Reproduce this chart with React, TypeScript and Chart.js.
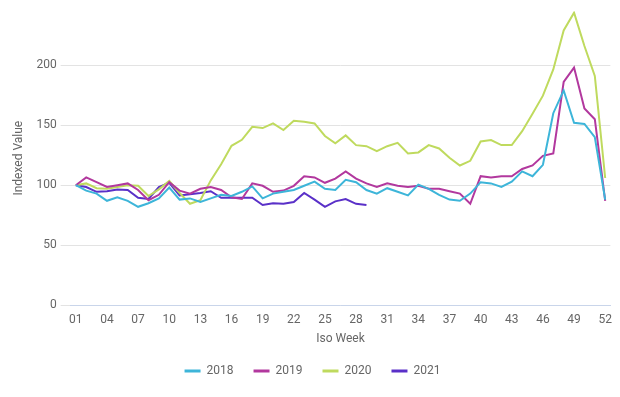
import React, { useEffect, useRef } from "react";
import { Chart, registerables } from "chart.js";

Chart.register(...registerables);

const weeks = Array.from({ length: 52 }, (_, i) => String(i + 1).padStart(2, "0"));

const series2018 = [100, 95.5, 93, 87, 90, 87, 82, 85, 89, 98, 88, 89, 86, 89, 92, 91, 94.5, 99, 89, 93, 94.5, 96, 99.5, 103, 97, 96, 104.5, 102.5, 96, 93, 97.5, 94.5, 91.5, 100.5, 97, 92, 88, 87, 93, 102.5, 101.5, 98.5, 103, 111.5, 107.5, 117, 160, 179, 152, 151, 140, 88];
const series2019 = [100, 106.5, 102.5, 98.5, 100, 101.5, 96, 87.5, 92, 102.5, 95.5, 93, 97, 98.5, 96, 90, 88.5, 101.5, 99.5, 94.5, 95.5, 99.5, 107.5, 106.5, 102, 105.5, 111.5, 105.5, 101.5, 98.5, 101.5, 99.5, 98.5, 99.5, 97, 97, 95, 93, 84.5, 107.5, 106.5, 107.5, 107.5, 113.5, 116.5, 124.5, 126.5, 186, 198, 164, 155, 87];
const series2020 = [100, 101.5, 97.5, 97, 98.5, 100, 99.5, 91, 96.5, 103.5, 93.5, 84.5, 87.5, 104, 117.5, 132.8, 137.8, 148.7, 147.6, 151.5, 146, 153.7, 152.9, 151.5, 141, 135, 141.5, 133.4, 132.5, 128.4, 132.5, 135.3, 126.4, 127.3, 133.4, 130.6, 122.8, 116.4, 120.3, 136.4, 137.6, 133.4, 133.4, 145, 159.5, 174.6, 196.5, 229, 243.8, 216, 191, 106];
const series2021 = [100, 98.5, 94.5, 95, 96.5, 96, 89.5, 88.5, 98.5, 102, 91.5, 92.5, 93.5, 95, 89.5, 89.5, 89.5, 89.5, 83.5, 85, 84.5, 86, 93.5, 88, 82, 86.5, 88.5, 84.5, 83.5];

const yTicks = [0, 50, 100, 150, 200];

export default function App() {
  const ref = useRef<HTMLCanvasElement | null>(null);
  useEffect(() => {
    if (!ref.current) return;
    const font = { family: "Roboto", size: 12 };
    const mk = (label: string, data: number[], color: string) => ({
      label,
      data,
      borderColor: color,
      backgroundColor: color,
      borderWidth: 2,
      pointRadius: 0,
      tension: 0,
      fill: false,
    });
    const chart = new Chart(ref.current, {
      type: "line",
      data: {
        labels: weeks,
        datasets: [
          mk("2018", series2018, "#3db5d9"),
          mk("2019", series2019, "#b2389e"),
          mk("2020", series2020, "#bfda5e"),
          mk("2021", series2021, "#5a30c8"),
        ],
      },
      options: {
        animation: false,
        responsive: true,
        maintainAspectRatio: false,
        layout: { padding: { top: 9, right: 7, bottom: 10, left: 12 } },
        plugins: {
          tooltip: { enabled: false },
          legend: {
            position: "bottom",
            labels: {
              font,
              color: "#666",
              boxWidth: 16,
              boxHeight: 3,
              padding: 20,
              generateLabels: (c: any) => {
                const items = Chart.defaults.plugins.legend.labels.generateLabels(c);
                items.forEach((it: any) => {
                  it.lineWidth = 0;
                  it.fillStyle = it.strokeStyle;
                });
                return items;
              },
            },
          },
        },
        scales: {
          x: {
            offset: true,
            grid: { display: false, drawTicks: false },
            border: { color: "#c9d5ea", width: 1 },
            ticks: {
              font,
              color: "#666",
              autoSkip: false,
              maxRotation: 0,
              padding: 8,
              callback: (_v: any, i: number) => (i % 3 === 0 ? weeks[i] : ""),
            },
            title: { display: true, text: "Iso Week", font, color: "#666", padding: { top: -4, bottom: -1 } },
          },
          y: {
            min: 0,
            max: 245,
            afterBuildTicks: (axis: any) => {
              axis.ticks = yTicks.map((v) => ({ value: v }));
            },
            grid: { color: "#e3e3e3", tickLength: 10 },
            border: { display: false },
            ticks: { font, color: "#666", padding: 4 },
            title: { display: true, text: "Indexed Value", font, color: "#666", padding: { top: 0, bottom: 6 } },
          },
        },
      },
    });
    return () => chart.destroy();
  }, []);
  return (
    <div style={{ position: "fixed", left: 0, top: 0, width: 620, height: 397, background: "#fff" }}>
      <canvas ref={ref} />
    </div>
  );
}
